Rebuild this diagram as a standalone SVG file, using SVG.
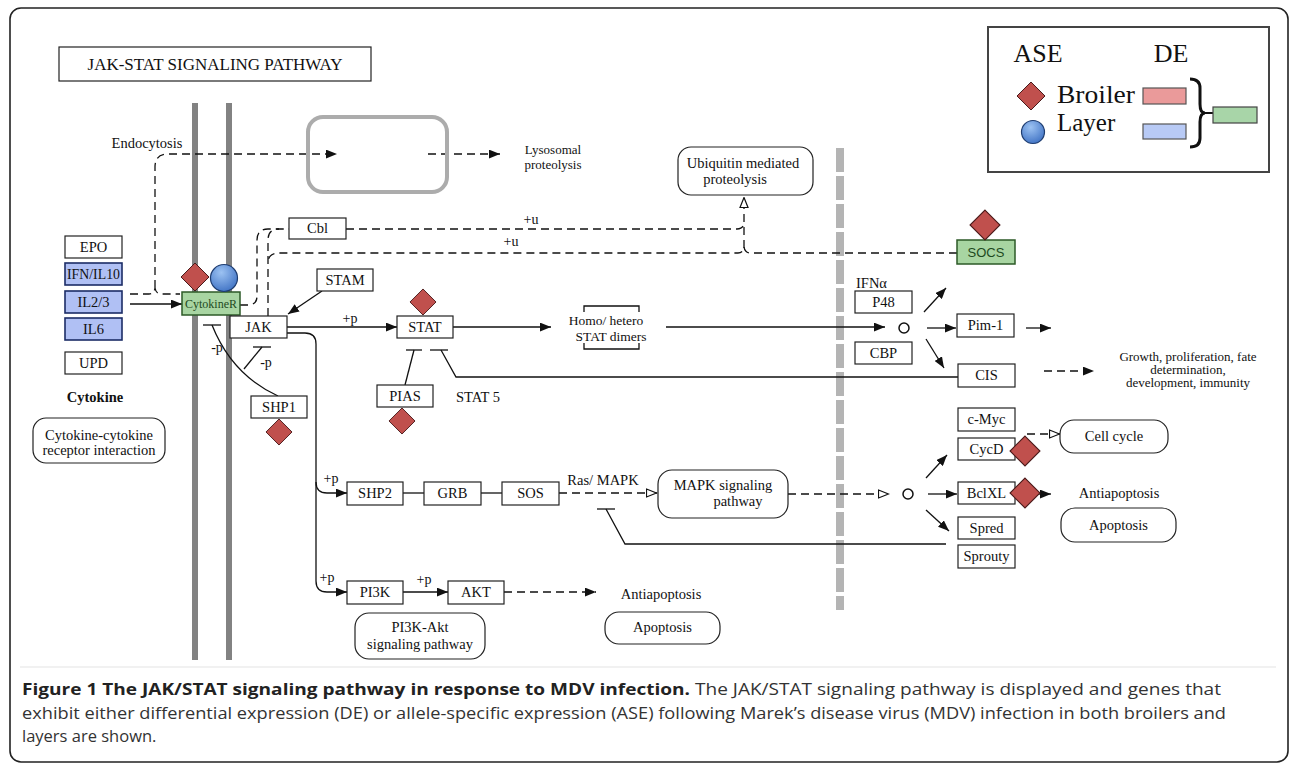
<svg xmlns="http://www.w3.org/2000/svg" width="1290" height="767" viewBox="0 0 1290 767">
<style>
.t{font-family:"Liberation Serif",serif;font-size:14.5px;fill:#111;text-anchor:middle}
.s{font-size:14px}
.box{fill:#fff;stroke:#222;stroke-width:1.2}
.blue{fill:#b0c0f4;stroke:#1c2c66;stroke-width:1.6}
.green{fill:#a8d5a2;stroke:#2d5a27;stroke-width:1.5}
.ln{fill:none;stroke:#111;stroke-width:1.3}
.dash{fill:none;stroke:#111;stroke-width:1.3;stroke-dasharray:8 5}
.ase{fill:#c0504d;stroke:#4a1a1a;stroke-width:1}
.lay{fill:url(#bg);stroke:#1f3d70;stroke-width:1.2}
.cap{font-family:"Open Sans","Noto Sans",sans-serif;font-size:16.5px;fill:#333}
.leg{font-family:"Liberation Serif",serif;fill:#111}
</style>
<defs>
<marker id="ah" viewBox="0 0 10 8" refX="10" refY="4" markerWidth="11" markerHeight="9" markerUnits="userSpaceOnUse" orient="auto"><path d="M0,0 L10,4 L0,8 z" fill="#111"/></marker>
<marker id="ao" viewBox="0 0 12 10" refX="11.5" refY="5" markerWidth="12" markerHeight="10" markerUnits="userSpaceOnUse" orient="auto"><path d="M1,1 L11,5 L1,9 z" fill="#fff" stroke="#111" stroke-width="1.2"/></marker>
<radialGradient id="bg" cx="0.4" cy="0.3" r="0.75"><stop offset="0" stop-color="#9cc2f2"/><stop offset="1" stop-color="#3f72c4"/></radialGradient>
<path id="dia" d="M0,-14 L14,0 L0,14 L-14,0 Z"/>
</defs>
<rect x="0" y="0" width="1290" height="767" fill="#fff"/>
<rect x="10" y="8" width="1278" height="754" rx="11" fill="none" stroke="#222" stroke-width="1.6"/>
<line x1="20" y1="667" x2="1276" y2="667" stroke="#ececec" stroke-width="1.5"/>

<g id="membranes">
<line x1="195" y1="103" x2="195" y2="660" stroke="#828282" stroke-width="6"/>
<line x1="229" y1="103" x2="229" y2="660" stroke="#828282" stroke-width="6"/>
<line x1="840" y1="148" x2="840" y2="610" stroke="#b4b4b4" stroke-width="8" stroke-dasharray="24 4"/>
</g>

<g id="title"><rect class="box" x="59" y="47" width="312" height="34"/><text class="t" x="215" y="70" style="font-size:17px">JAK-STAT SIGNALING PATHWAY</text></g>

<g id="connectors">
<line class="ln" x1="130" y1="304" x2="182" y2="304" marker-end="url(#ah)"/>
<path class="dash" d="M130,294 H149 Q154,294 155,288 Q156,294 161,294 H180"/>
<path class="dash" d="M155,288 V167 Q155,154 168,154 H337" marker-end="url(#ah)"/>
<line class="dash" x1="428" y1="154" x2="500" y2="154" marker-end="url(#ah)"/>
<path class="dash" d="M240,305 H248 Q257,305 257,296 V240 Q257,229 268,229 H289"/>
<path class="dash" d="M268,316 V240 Q268,229 279,229"/>
<path class="dash" d="M346,229 H737 Q744,229 744,222"/>
<path class="dash" d="M744,248 V197" marker-end="url(#ao)"/>
<path class="dash" d="M957,253 H750 Q745,253 744,247 Q743,253 738,253 H279 Q268,253 268,263"/>
<line class="ln" x1="322" y1="291" x2="288" y2="314" marker-end="url(#ah)"/>
<line class="ln" x1="287" y1="327" x2="397" y2="327" marker-end="url(#ah)"/>
<line class="ln" x1="453" y1="327" x2="551" y2="327" marker-end="url(#ah)"/>
<line class="ln" x1="666" y1="327" x2="885" y2="327" marker-end="url(#ah)"/>
<line class="ln" x1="927" y1="328" x2="956" y2="328" marker-end="url(#ah)"/>
<line class="ln" x1="924" y1="312" x2="946" y2="288" marker-end="url(#ah)"/>
<line class="ln" x1="926" y1="339" x2="944" y2="368" marker-end="url(#ah)"/>
<line class="ln" x1="1026" y1="328" x2="1051" y2="328" marker-end="url(#ah)"/>
<line class="ln" x1="430" y1="350" x2="448" y2="350"/>
<path class="ln" d="M441,350 L456,377 H958"/>
<line class="ln" x1="406" y1="350" x2="422" y2="350"/>
<line class="ln" x1="414" y1="350" x2="405" y2="385"/>
<line class="dash" x1="1044" y1="371" x2="1094" y2="371" marker-end="url(#ah)"/>
<line class="ln" x1="203" y1="325" x2="221" y2="325"/>
<path class="ln" d="M212,325 Q232,375 278,396"/>
<line class="ln" x1="253" y1="347" x2="271" y2="347"/>
<line class="ln" x1="262" y1="347" x2="244" y2="369"/>
<path class="ln" d="M287,333 H305 Q316,333 316,344 V581 Q316,592 327,592 H347" marker-end="url(#ah)"/>
<path class="ln" d="M316,482 Q316,493 327,493 H347" marker-end="url(#ah)"/>
<line class="ln" x1="403" y1="493" x2="424" y2="493"/>
<line class="ln" x1="481" y1="493" x2="502" y2="493"/>
<line class="dash" x1="559" y1="493" x2="657" y2="493" marker-end="url(#ao)"/>
<line class="dash" x1="788" y1="494" x2="889" y2="494" marker-end="url(#ao)"/>
<line class="ln" x1="597" y1="509" x2="615" y2="509"/>
<path class="ln" d="M606,509 L625,544 H946"/>
<line class="ln" x1="926" y1="478" x2="947" y2="455" marker-end="url(#ah)"/>
<line class="ln" x1="928" y1="494" x2="957" y2="494" marker-end="url(#ah)"/>
<line class="ln" x1="926" y1="510" x2="949" y2="531" marker-end="url(#ah)"/>
<line class="dash" x1="1027" y1="434" x2="1060" y2="434" marker-end="url(#ao)"/>
<line class="ln" x1="1030" y1="494" x2="1051" y2="494" marker-end="url(#ah)"/>
<line class="ln" x1="403" y1="592" x2="448" y2="592" marker-end="url(#ah)"/>
<line class="dash" x1="504" y1="592" x2="596" y2="592" marker-end="url(#ah)"/>
<circle cx="904" cy="328" r="5" fill="#fff" stroke="#111" stroke-width="1.5"/>
<circle cx="908" cy="494" r="5" fill="#fff" stroke="#111" stroke-width="1.5"/>
</g>

<g id="edge-labels">
<text class="t s" x="350" y="323">+p</text>
<text class="t s" x="331" y="483">+p</text>
<text class="t s" x="327" y="582">+p</text>
<text class="t s" x="424" y="584">+p</text>
<text class="t s" x="217" y="352">-p</text>
<text class="t s" x="266" y="367">-p</text>
<text class="t s" x="531" y="224">+u</text>
<text class="t s" x="511" y="246">+u</text>
<text class="t" x="603" y="485">Ras/ MAPK</text>
</g>

<g id="endocytosis"><text class="t" x="147" y="148">Endocytosis</text></g>
<g id="lysosome"><rect x="308" y="117" width="139" height="75" rx="15" fill="none" stroke="#acacac" stroke-width="4"/></g>
<g id="lysosomal"><text class="t" x="553" y="154" style="font-size:13px">Lysosomal</text><text class="t" x="553" y="169" style="font-size:13px">proteolysis</text></g>
<g id="ubiquitin"><rect class="box" x="678" y="147" width="135" height="48" rx="13"/><text class="t" x="743" y="168">Ubiquitin mediated</text><text class="t" x="735" y="184">proteolysis</text></g>

<g id="EPO"><rect class="box" x="65" y="236" width="57" height="22"/><text class="t" x="93.5" y="252">EPO</text></g>
<g id="IFN"><rect class="blue" x="65" y="263" width="57" height="22"/><text class="t" x="93.5" y="279" textLength="53" lengthAdjust="spacingAndGlyphs">IFN/IL10</text></g>
<g id="IL23"><rect class="blue" x="65" y="291" width="57" height="22"/><text class="t" x="93.5" y="307">IL2/3</text></g>
<g id="IL6"><rect class="blue" x="65" y="318" width="57" height="22"/><text class="t" x="93.5" y="334">IL6</text></g>
<g id="UPD"><rect class="box" x="65" y="352" width="57" height="22"/><text class="t" x="93.5" y="368">UPD</text></g>
<g id="cytokine-label"><text class="t" x="95" y="402" style="font-weight:bold">Cytokine</text></g>
<g id="ccri"><rect class="box" x="33" y="418" width="132" height="45" rx="13"/><text class="t" x="99" y="440">Cytokine-cytokine</text><text class="t" x="99" y="455">receptor interaction</text></g>

<g id="CytokineR"><rect class="green" x="182" y="292" width="58" height="23"/><text class="t" x="211" y="308" style="font-size:12.5px;fill:#1e4a1e" textLength="52" lengthAdjust="spacingAndGlyphs">CytokineR</text>
<use href="#dia" class="ase" x="195" y="277"/><circle class="lay" cx="224" cy="278" r="13.5"/></g>
<g id="JAK"><rect class="box" x="230" y="316" width="57" height="22"/><text class="t" x="258.5" y="332">JAK</text></g>
<g id="STAM"><rect class="box" x="317" y="269" width="56" height="22"/><text class="t" x="345" y="285">STAM</text></g>
<g id="Cbl"><rect class="box" x="289" y="218" width="57" height="21"/><text class="t" x="317.5" y="233">Cbl</text></g>
<g id="SHP1"><rect class="box" x="251" y="396" width="56" height="22"/><text class="t" x="279" y="412">SHP1</text><use href="#dia" class="ase" x="279" y="432" transform="translate(279 432) scale(0.93) translate(-279 -432)"/></g>
<g id="STAT"><rect class="box" x="397" y="316" width="56" height="22"/><text class="t" x="425" y="332">STAT</text><use href="#dia" class="ase" x="423" y="302" transform="translate(423 302) scale(0.93) translate(-423 -302)"/></g>
<g id="PIAS"><rect class="box" x="377" y="385" width="56" height="22"/><text class="t" x="405" y="401">PIAS</text><use href="#dia" class="ase" x="402" y="421" transform="translate(402 421) scale(0.93) translate(-402 -421)"/></g>
<g id="STAT5"><text class="t" x="478" y="402">STAT 5</text></g>
<g id="dimers"><path class="ln" d="M584,312 V306 H639 V312 M584,343 V349 H639 V343"/><text class="t" x="606" y="325" style="font-size:13.5px">Homo/ hetero</text><text class="t" x="611" y="341" style="font-size:13.5px">STAT dimers</text></g>
<g id="SOCS"><rect class="green" x="957" y="240" width="58" height="24"/><text x="986" y="257" style="font-family:'Liberation Sans',sans-serif;font-size:13px;fill:#1e4a1e;text-anchor:middle">SOCS</text><use href="#dia" class="ase" x="985" y="225" transform="translate(985 225) scale(1.07) translate(-985 -225)"/></g>

<g id="IFNa"><text class="t" x="856" y="288" style="text-anchor:start">IFNα</text></g>
<g id="P48"><rect class="box" x="855" y="291" width="57" height="22"/><text class="t" x="883.5" y="307">P48</text></g>
<g id="CBP"><rect class="box" x="855" y="342" width="57" height="22"/><text class="t" x="883.5" y="358">CBP</text></g>
<g id="Pim1"><rect class="box" x="957" y="314" width="57" height="23"/><text class="t" x="985.5" y="330">Pim-1</text></g>
<g id="CIS"><rect class="box" x="958" y="364" width="57" height="23"/><text class="t" x="986.5" y="380">CIS</text></g>
<g id="growth"><text class="t" x="1188" y="361" style="font-size:13px">Growth, proliferation, fate</text><text class="t" x="1188" y="374" style="font-size:13px">determination,</text><text class="t" x="1188" y="387" style="font-size:13px">development, immunity</text></g>

<g id="cMyc"><rect class="box" x="958" y="408" width="57" height="23"/><text class="t" x="986.5" y="424">c-Myc</text></g>
<g id="CycD"><rect class="box" x="958" y="438" width="57" height="22"/><text class="t" x="986.5" y="454">CycD</text><use href="#dia" class="ase" x="1025" y="451" transform="translate(1025 451) scale(1.07) translate(-1025 -451)"/></g>
<g id="BclXL"><rect class="box" x="958" y="482" width="57" height="22"/><text class="t" x="986.5" y="498">BclXL</text><use href="#dia" class="ase" x="1025" y="493" transform="translate(1025 493) scale(1.07) translate(-1025 -493)"/></g>
<g id="Spred"><rect class="box" x="958" y="517" width="57" height="22"/><text class="t" x="986.5" y="533">Spred</text></g>
<g id="Sprouty"><rect class="box" x="958" y="545" width="57" height="23"/><text class="t" x="986.5" y="561">Sprouty</text></g>
<g id="cellcycle"><rect class="box" x="1060" y="420" width="108" height="33" rx="14"/><text class="t" x="1114" y="441">Cell cycle</text></g>
<g id="antiapop1"><text class="t" x="1119" y="498">Antiapoptosis</text></g>
<g id="apop1"><rect class="box" x="1061" y="508" width="115" height="34" rx="14"/><text class="t" x="1118.5" y="530">Apoptosis</text></g>

<g id="SHP2"><rect class="box" x="347" y="482" width="56" height="23"/><text class="t" x="375" y="498">SHP2</text></g>
<g id="GRB"><rect class="box" x="424" y="482" width="57" height="23"/><text class="t" x="452.5" y="498">GRB</text></g>
<g id="SOS"><rect class="box" x="502" y="482" width="57" height="23"/><text class="t" x="530.5" y="498">SOS</text></g>
<g id="MAPK"><rect class="box" x="658" y="470" width="130" height="48" rx="14"/><text class="t" x="723" y="490">MAPK signaling</text><text class="t" x="738" y="506">pathway</text></g>

<g id="PI3K"><rect class="box" x="347" y="581" width="56" height="23"/><text class="t" x="375" y="597">PI3K</text></g>
<g id="AKT"><rect class="box" x="448" y="581" width="56" height="23"/><text class="t" x="476" y="597">AKT</text></g>
<g id="pi3kakt"><rect class="box" x="355" y="613" width="130" height="46" rx="14"/><text class="t" x="420" y="632">PI3K-Akt</text><text class="t" x="420" y="649">signaling pathway</text></g>
<g id="antiapop2"><text class="t" x="661" y="599">Antiapoptosis</text></g>
<g id="apop2"><rect class="box" x="605" y="612" width="115" height="32" rx="14"/><text class="t" x="662.5" y="632">Apoptosis</text></g>

<g id="legend">
<rect x="988" y="27" width="281" height="145" fill="#fff" stroke="#444" stroke-width="2"/>
<text class="leg" x="1038" y="62" style="font-size:26px;text-anchor:middle">ASE</text>
<text class="leg" x="1171" y="62" style="font-size:26px;text-anchor:middle">DE</text>
<use href="#dia" class="ase" x="1031" y="96"/>
<circle class="lay" cx="1033" cy="132" r="11.5"/>
<text class="leg" x="1057" y="103" style="font-size:25px" textLength="78" lengthAdjust="spacingAndGlyphs">Broiler</text>
<text class="leg" x="1057" y="131" style="font-size:25px">Layer</text>
<rect x="1143" y="88" width="43" height="16" fill="#ea9a9a" stroke="#555" stroke-width="1.2"/>
<rect x="1143" y="124" width="43" height="15" fill="#b8caf5" stroke="#555" stroke-width="1.2"/>
<path d="M1190,79 Q1200,79 1200,88 V104 Q1200,113 1205,113 Q1200,113 1200,122 V138 Q1200,147 1190,147" fill="none" stroke="#111" stroke-width="3"/>
<line x1="1204" y1="113" x2="1213" y2="113" stroke="#111" stroke-width="2"/>
<rect x="1213" y="107" width="44" height="16" fill="#a8d5a8" stroke="#444" stroke-width="1.2"/>
</g>

<g id="caption">
<text class="cap" x="22" y="695" textLength="1199" lengthAdjust="spacingAndGlyphs"><tspan style="font-weight:bold;fill:#222">Figure 1 The JAK/STAT signaling pathway in response to MDV infection.</tspan> The JAK/STAT signaling pathway is displayed and genes that</text>
<text class="cap" x="22" y="719" textLength="1204" lengthAdjust="spacingAndGlyphs">exhibit either differential expression (DE) or allele-specific expression (ASE) following Marek’s disease virus (MDV) infection in both broilers and</text>
<text class="cap" x="22" y="742">layers are shown.</text>
</g>
</svg>
